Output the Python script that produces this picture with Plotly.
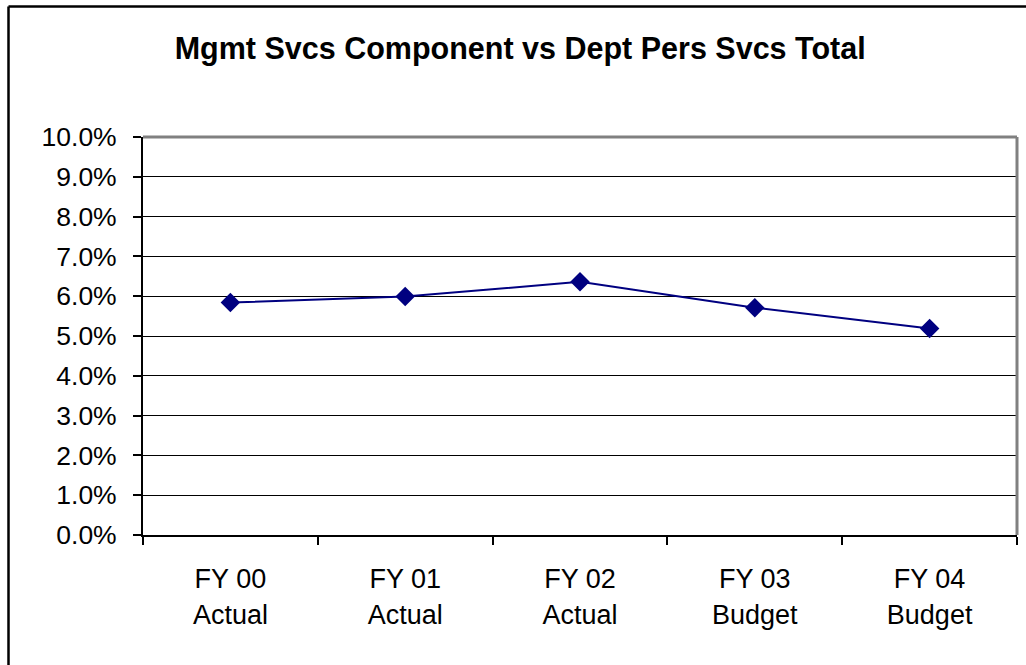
import plotly.graph_objects as go

categories = ["FY 00<br>Actual", "FY 01<br>Actual", "FY 02<br>Actual", "FY 03<br>Budget", "FY 04<br>Budget"]
values = [0.0584, 0.0599, 0.0636, 0.0571, 0.0519]
y_ticks = [i / 100 for i in range(0, 11)]
y_tick_labels = [f"{i:.1f}%" for i in range(0, 11)]
title_text = "Mgmt Svcs Component vs Dept Pers Svcs Total"

FONT = "Liberation Sans, Arial, sans-serif"

fig = go.Figure()
fig.add_trace(go.Scatter(
    x=categories, y=values, mode="lines+markers",
    line=dict(color="#000080", width=2),
    marker=dict(symbol="diamond", size=15, color="#000080"),
    showlegend=False,
))

fig.update_layout(
    width=1026, height=665,
    margin=dict(l=143, r=9, t=137, b=130),
    paper_bgcolor="white", plot_bgcolor="white",
    font=dict(family=FONT, color="black", size=26),
    title=dict(text=f"<b>{title_text}</b>", x=0.507, xanchor="center",
               y=1 - 48 / 665, yanchor="middle",
               font=dict(family=FONT, size=30.5, color="black")),
)

fig.update_xaxes(
    type="category", range=[-0.5, 4.5],
    showline=True, linecolor="black", linewidth=2,
    ticks="outside", tickson="boundaries", ticklen=8, tickwidth=2, tickcolor="black",
    showgrid=False, zeroline=False,
    tickfont=dict(family=FONT, size=27, color="black"),
    ticklabelstandoff=19,
)
fig.update_yaxes(
    range=[0, 0.1], tickvals=y_ticks, ticktext=y_tick_labels,
    showline=True, linecolor="black", linewidth=2,
    ticks="outside", ticklen=8, tickwidth=2, tickcolor="black",
    showgrid=True, gridcolor="black", gridwidth=1, zeroline=False,
    tickfont=dict(family=FONT, size=26.5, color="black"),
    ticklabelstandoff=11,
)

# gray plot-area border (top and right)
fig.add_shape(type="line", xref="paper", yref="paper", x0=0, x1=1, y0=1, y1=1,
              line=dict(color="#808080", width=3))
fig.add_shape(type="line", xref="paper", yref="paper", x0=1, x1=1, y0=0, y1=1,
              line=dict(color="#808080", width=3))

# outer chart border (left and top)
W = 874.0
H = 398.0
fig.add_shape(type="line", xref="paper", yref="paper",
              x0=(8.5 - 143) / W, x1=(1030 - 143) / W,
              y0=(535 - 6.5) / H, y1=(535 - 6.5) / H,
              line=dict(color="black", width=2.5))
fig.add_shape(type="line", xref="paper", yref="paper",
              x0=(8.5 - 143) / W, x1=(8.5 - 143) / W,
              y0=(535 - 6.5) / H, y1=(535 - 670) / H,
              line=dict(color="black", width=2.5))

fig.write_html(
    "out.html",
    config={"displayModeBar": False},
    post_script="document.body.style.margin='0px';document.body.style.overflow='hidden';",
)
